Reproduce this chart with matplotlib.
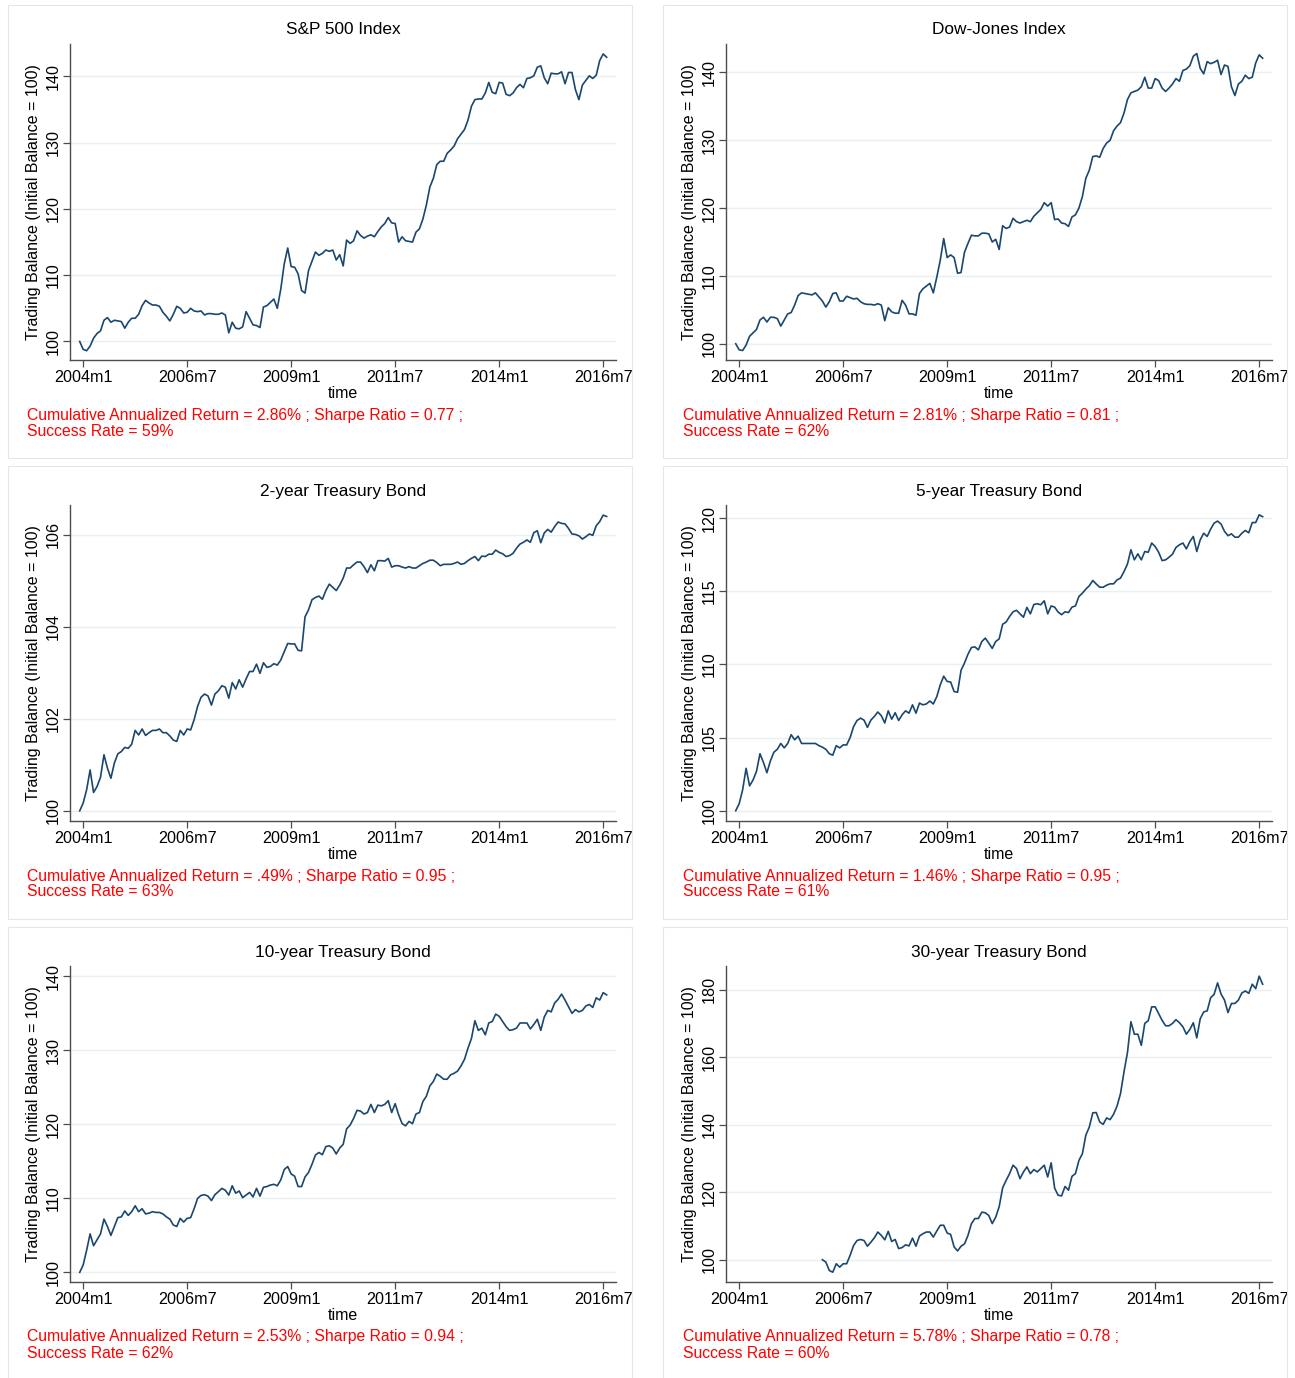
import numpy as np
import matplotlib
matplotlib.use("Agg")
import matplotlib.pyplot as plt
from matplotlib.patches import Rectangle

plt.rcParams['font.family'] = ['Liberation Sans', 'DejaVu Sans']

# months counted from 2004m1 (= 0); series are monthly
tick_months = [0, 30, 60, 90, 120, 150]
tick_labels = ['2004m1', '2006m7', '2009m1', '2011m7', '2014m1', '2016m7']

titles = ['S&P 500 Index', 'Dow-Jones Index', '2-year Treasury Bond',
          '5-year Treasury Bond', '10-year Treasury Bond', '30-year Treasury Bond']
start_months = [-1, -1, -1, -1, -1, 24]

sp500 = [100.0, 98.8, 98.6, 99.3, 100.5, 101.2, 101.6, 103.2, 103.6, 102.9, 103.2,
         103.1, 103.0, 102.0, 102.9, 103.5, 103.5, 104.1, 105.4, 106.2, 105.8,
         105.5, 105.5, 105.3, 104.4, 103.8, 103.1, 104.1, 105.3, 105.0, 104.3,
         104.4, 105.0, 104.6, 104.5, 104.6, 104.0, 104.2, 104.2, 104.1, 104.1,
         104.3, 104.0, 101.3, 102.9, 102.0, 101.9, 102.2, 104.5, 103.5, 102.5,
         102.4, 102.1, 105.2, 105.4, 105.9, 106.4, 105.0, 107.9, 111.7, 114.1,
         111.3, 111.2, 110.2, 107.7, 107.3, 110.7, 112.1, 113.5, 113.0, 113.3,
         113.8, 113.6, 113.8, 112.3, 113.1, 111.4, 115.3, 114.8, 115.2, 116.7,
         116.0, 115.6, 115.9, 116.1, 115.8, 116.6, 117.3, 117.8, 118.7, 117.9,
         117.8, 115.0, 115.8, 115.2, 115.1, 115.0, 116.5, 117.0, 118.5, 120.6,
         123.3, 124.6, 126.7, 127.2, 127.2, 128.4, 128.9, 129.5, 130.6, 131.3,
         132.0, 133.4, 135.5, 136.5, 136.6, 136.6, 137.5, 139.1, 137.6, 137.4,
         139.1, 139.0, 137.3, 137.1, 137.5, 138.3, 138.8, 138.3, 139.7, 139.8,
         140.1, 141.4, 141.6, 139.8, 138.9, 140.5, 140.4, 140.4, 140.7, 138.9,
         140.6, 140.6, 138.0, 136.5, 138.7, 139.4, 140.1, 139.7, 140.2, 142.4,
         143.4, 142.9]

dow = [100.0, 99.1, 99.0, 99.8, 101.1, 101.6, 102.1, 103.5, 103.9, 103.2, 103.9,
       103.9, 103.7, 102.6, 103.5, 104.4, 104.6, 105.7, 107.1, 107.5, 107.4,
       107.3, 107.2, 107.5, 106.9, 106.3, 105.4, 106.2, 107.4, 107.5, 106.3,
       106.3, 107.0, 106.8, 106.6, 106.7, 106.2, 105.9, 105.8, 105.8, 105.7,
       105.9, 105.7, 103.4, 105.3, 104.7, 104.5, 104.5, 106.4, 105.7, 104.4,
       104.4, 104.2, 107.4, 108.1, 108.5, 108.9, 107.5, 109.8, 112.3, 115.5,
       112.7, 113.1, 112.7, 110.4, 110.5, 113.5, 114.8, 116.0, 115.9, 115.9,
       116.3, 116.3, 116.2, 115.0, 115.4, 113.9, 117.4, 117.0, 117.2, 118.5,
       118.0, 117.8, 118.0, 118.2, 118.0, 118.8, 119.3, 119.8, 120.8, 120.3,
       120.8, 118.3, 118.4, 117.8, 117.7, 117.3, 118.7, 119.0, 120.0, 121.7,
       124.4, 125.6, 127.6, 127.7, 127.5, 128.8, 129.6, 130.0, 131.4, 132.1,
       132.6, 134.0, 136.0, 137.0, 137.2, 137.4, 137.9, 139.3, 137.7, 137.7,
       139.1, 138.8, 137.7, 137.2, 137.7, 138.3, 139.1, 138.7, 140.3, 140.5,
       141.0, 142.4, 142.8, 140.6, 139.8, 141.6, 141.3, 141.5, 141.8, 139.7,
       141.1, 140.9, 137.9, 136.6, 138.3, 138.7, 139.6, 139.1, 139.3, 141.4,
       142.6, 142.1]

tb2 = [100.0, 100.17, 100.46, 100.89, 100.40, 100.53, 100.73, 101.22, 100.93, 100.71, 101.04,
       101.24, 101.29, 101.38, 101.36, 101.45, 101.75, 101.65, 101.78, 101.64, 101.70,
       101.75, 101.75, 101.78, 101.70, 101.70, 101.63, 101.54, 101.51, 101.75, 101.65,
       101.78, 101.76, 101.98, 102.27, 102.47, 102.54, 102.50, 102.30, 102.54, 102.61,
       102.72, 102.69, 102.45, 102.79, 102.65, 102.85, 102.69, 102.87, 103.03, 103.03,
       103.19, 102.99, 103.22, 103.12, 103.14, 103.20, 103.17, 103.28, 103.46, 103.64,
       103.63, 103.63, 103.49, 103.48, 104.22, 104.37, 104.59, 104.64, 104.67, 104.60,
       104.79, 104.93, 104.86, 104.79, 104.91, 105.06, 105.28, 105.28, 105.35, 105.41,
       105.41, 105.31, 105.18, 105.35, 105.22, 105.44, 105.44, 105.43, 105.49, 105.30,
       105.33, 105.33, 105.30, 105.28, 105.31, 105.28, 105.28, 105.33, 105.38, 105.41,
       105.45, 105.45, 105.40, 105.33, 105.36, 105.36, 105.36, 105.38, 105.41, 105.36,
       105.38, 105.44, 105.49, 105.53, 105.44, 105.54, 105.53, 105.58, 105.58, 105.67,
       105.62, 105.59, 105.53, 105.55, 105.60, 105.71, 105.80, 105.84, 105.89, 105.84,
       106.05, 106.09, 105.83, 106.04, 106.12, 106.06, 106.18, 106.28, 106.25, 106.24,
       106.14, 106.02, 106.01, 105.98, 105.91, 105.96, 106.02, 105.99, 106.20, 106.29,
       106.43, 106.40]

tb5 = [100.0, 100.48, 101.43, 102.9, 101.7, 102.1, 102.7, 103.9, 103.3, 102.6, 103.4,
       104.0, 104.2, 104.6, 104.3, 104.6, 105.2, 104.85, 105.1, 104.6, 104.6,
       104.6, 104.6, 104.6, 104.45, 104.35, 104.2, 103.9, 103.8, 104.45, 104.3,
       104.5, 104.5, 105.0, 105.75, 106.17, 106.33, 106.2, 105.7, 106.2, 106.45,
       106.75, 106.5, 106.0, 106.83, 106.26, 106.7, 106.17, 106.56, 106.83, 106.67,
       107.24, 106.67, 107.36, 107.24, 107.3, 107.5, 107.3, 107.8, 108.6, 109.2,
       108.84, 108.8, 108.15, 108.1, 109.6, 110.1, 110.7, 111.16, 111.2, 111.0,
       111.57, 111.8, 111.46, 111.1, 111.57, 111.75, 112.75, 112.9, 113.28, 113.6,
       113.7, 113.46, 113.23, 113.9, 113.46, 114.1, 114.15, 114.08, 114.35, 113.46,
       114.0, 113.92, 113.58, 113.4, 113.6, 113.55, 113.92, 114.0, 114.65, 114.87,
       115.15, 115.38, 115.74, 115.5, 115.28, 115.28, 115.42, 115.51, 115.51, 115.78,
       115.9, 116.35, 116.86, 117.84, 117.15, 117.56, 117.15, 117.72, 117.67, 118.3,
       118.06, 117.67, 117.1, 117.15, 117.33, 117.54, 118.0, 118.18, 118.3, 117.9,
       118.4, 118.75, 117.72, 118.52, 118.97, 118.75, 119.25, 119.66, 119.8, 119.6,
       119.1, 118.8, 118.93, 118.7, 118.7, 118.97, 119.16, 119.0, 119.7, 119.7,
       120.23, 120.1]

tb10 = [100.0, 101.0, 103.0, 105.2, 103.6, 104.4, 105.2, 107.2, 106.2, 105.0, 106.2,
        107.4, 107.5, 108.3, 107.7, 108.2, 109.0, 108.2, 108.6, 107.9, 108.0,
        108.2, 108.1, 108.1, 107.9, 107.5, 107.2, 106.4, 106.2, 107.3, 106.8,
        107.3, 107.4, 108.6, 110.0, 110.4, 110.5, 110.3, 109.7, 110.5, 110.9,
        111.35, 111.1, 110.45, 111.7, 110.7, 111.0, 110.1, 110.45, 110.8, 110.2,
        111.35, 110.3, 111.5, 111.6, 111.8, 111.9, 111.7, 112.5, 113.9, 114.3,
        113.3, 113.0, 111.6, 111.6, 112.9, 113.5, 114.6, 115.85, 116.2, 115.9,
        117.0, 117.1, 116.8, 116.0, 116.8, 117.3, 119.4, 119.9, 120.8, 121.9,
        121.8, 121.4, 121.6, 122.7, 121.6, 122.6, 122.5, 122.7, 123.2, 121.6,
        122.8, 121.3, 120.1, 119.8, 120.4, 120.1, 121.4, 121.6, 123.1, 123.8,
        125.2, 125.8, 126.8, 126.5, 126.1, 126.1, 126.7, 126.9, 127.2, 127.9,
        128.8, 130.3, 131.6, 134.0, 132.7, 133.0, 132.1, 133.7, 133.9, 134.9,
        134.6, 133.9, 133.2, 132.7, 132.8, 133.0, 133.7, 133.7, 133.7, 132.9,
        133.5, 134.2, 132.7, 134.5, 135.4, 135.2, 136.4, 136.9, 137.6, 136.8,
        135.9, 135.0, 135.5, 135.2, 135.4, 136.0, 136.2, 135.8, 137.1, 136.8,
        137.8, 137.5]

tb30 = [100.0, 99.3, 96.8, 96.3, 98.8, 97.8, 98.8, 98.8, 101.3, 104.2,
        105.7, 106.0, 105.7, 104.0, 105.2, 106.5, 108.2, 107.2, 105.9, 108.4,
        105.4, 106.0, 103.3, 103.6, 104.4, 104.1, 106.4, 104.0, 107.0, 107.7,
        108.2, 108.2, 106.7, 108.5, 110.2, 110.2, 107.9, 107.5, 103.8, 102.6,
        104.0, 104.7, 107.2, 110.7, 112.2, 112.2, 114.1, 113.9, 113.1, 110.7,
        112.6, 115.7, 121.3, 123.5, 125.5, 128.0, 127.0, 124.0, 126.0, 127.5,
        125.5, 126.7, 126.0, 127.0, 128.0, 124.5, 128.7, 121.2, 119.1, 118.9,
        121.7, 120.6, 124.7, 125.5, 129.4, 131.4, 136.9, 139.3, 143.5, 143.6,
        140.8, 140.1, 142.0, 141.5, 143.1, 145.5, 149.2, 155.6, 161.3, 170.5,
        166.8, 166.8, 163.5, 170.0, 170.8, 174.9, 174.9, 172.9, 170.9, 169.3,
        169.3, 170.0, 171.1, 170.2, 169.0, 166.8, 168.2, 170.2, 165.7, 171.4,
        173.4, 173.7, 177.6, 178.6, 182.0, 178.7, 176.9, 173.2, 175.9, 175.9,
        176.9, 179.0, 179.6, 178.9, 181.6, 180.3, 184.0, 181.6]

series = [sp500, dow, tb2, tb5, tb10, tb30]
ann_return = ['2.86%', '2.81%', '.49%', '1.46%', '2.53%', '5.78%']
sharpe = ['0.77', '0.81', '0.95', '0.95', '0.94', '0.78']
success = ['59%', '62%', '63%', '61%', '62%', '60%']
y_ticks = [np.arange(100, 141, 10), np.arange(100, 141, 10), np.arange(100, 107, 2),
           np.arange(100, 121, 5), np.arange(100, 141, 10), np.arange(100, 181, 20)]
y_limits = [(97.2, 144.9), (97.6, 144.2), (99.78, 106.65),
            (99.3, 120.9), (98.7, 141.4), (93.4, 187.0)]

W, H = 1295, 1378
fig = plt.figure(figsize=(W / 100, H / 100), dpi=100)
fig.patch.set_facecolor('white')

line_color = '#1a476f'
grid_color = '#e8f0f2'
axis_color = '#4d4d4d'

col_left = [70, 726]
row_top = [44, 505, 966]
ax_w, ax_h = 546, 316

for i in range(6):
    r, c = divmod(i, 2)
    left = col_left[c]
    top = row_top[r]

    # panel frame
    px0 = 8 + 655 * c
    py0 = 5 + 461 * r
    fig.patches.append(Rectangle((px0 / W, 1 - (py0 + 453) / H), 624 / W, 453 / H,
                                 transform=fig.transFigure, fill=False,
                                 edgecolor='#e6e6e6', linewidth=0.8))

    ax = fig.add_axes([left / W, 1 - (top + ax_h) / H, ax_w / W, ax_h / H])
    vals = series[i]
    months = np.arange(start_months[i], start_months[i] + len(vals))
    ax.plot(months, vals, color=line_color, linewidth=1.2, zorder=3)

    ax.set_xlim(-3.8, 153.7)
    ax.set_ylim(*y_limits[i])
    ax.set_xticks(tick_months)
    ax.set_xticklabels(tick_labels, fontsize=11.6)
    ax.set_yticks(y_ticks[i])
    ax.set_yticklabels([str(v) for v in y_ticks[i]], fontsize=11.6,
                       rotation=90, va='center')
    ax.grid(axis='y', color=grid_color, linewidth=1.0, zorder=0)
    ax.set_axisbelow(True)

    for side in ['top', 'right']:
        ax.spines[side].set_visible(False)
    for side in ['left', 'bottom']:
        ax.spines[side].set_color(axis_color)
        ax.spines[side].set_linewidth(1.0)
    ax.tick_params(direction='out', length=5, width=0.9, color=axis_color,
                   labelcolor='black', pad=2)

    ax.set_xlabel('time', fontsize=11.5, labelpad=1)
    ax.set_ylabel('Trading Balance (Initial Balance = 100)', fontsize=11.5, labelpad=3)

    cx = left + ax_w / 2
    fig.text(cx / W, 1 - (top - 14) / H, titles[i], fontsize=12.4,
             ha='center', va='center')

    tx = 27 + 656 * c
    fig.text(tx / W, 1 - (top + 371) / H,
             'Cumulative Annualized Return = %s ; Sharpe Ratio = %s ;' % (ann_return[i], sharpe[i]),
             fontsize=11.3, color='red', ha='left', va='center')
    fig.text(tx / W, 1 - (top + 387) / H, 'Success Rate = %s' % success[i],
             fontsize=11.3, color='red', ha='left', va='center')

fig.savefig('out.png', dpi=100, facecolor='white')
